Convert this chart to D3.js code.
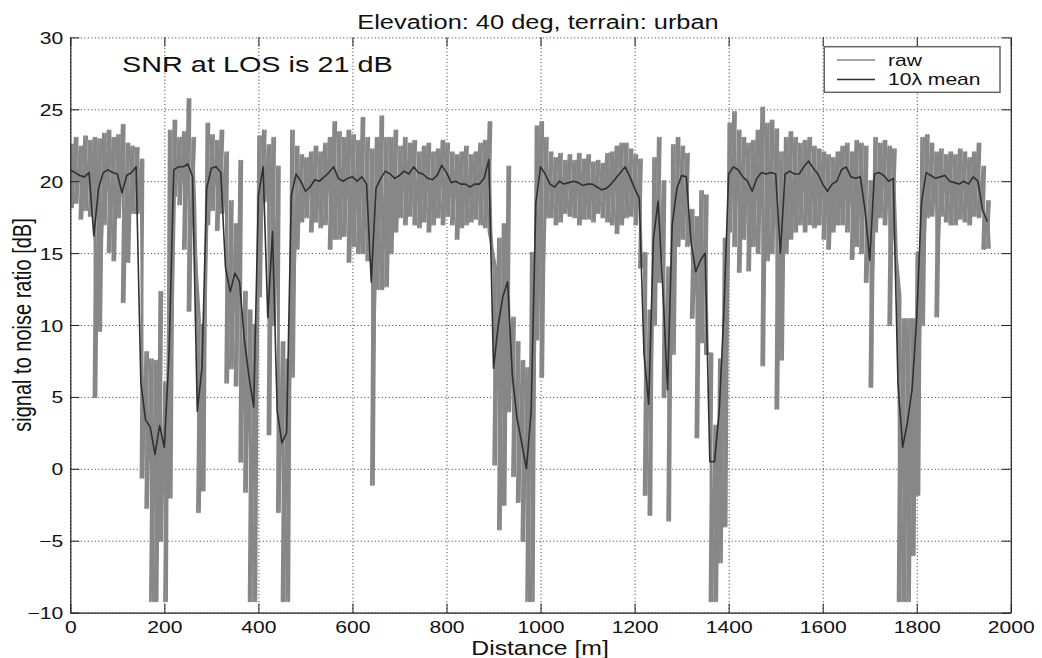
<!DOCTYPE html>
<html>
<head>
<meta charset="utf-8">
<script src="https://cdn.jsdelivr.net/npm/d3@7"></script>
<style>
  body { margin: 0; background: #fff; }
  svg { display: block; }
</style>
</head>
<body>
<svg id="snr_graph" width="1042" height="658"></svg>
<script>

// raw SNR envelope per 10 m of distance (max / min of the raw trace), dB
var rawHigh = [
  22.6, 23.0, 22.4, 23.1, 22.8, 23.0, 22.9, 23.3, 23.5, 23.0,
  23.2, 23.9, 22.6, 22.4, 22.3, 21.5, 8.1, 7.6, 7.5, 12.3,
  6.0, 23.5, 24.2, 23.0, 23.4, 25.7, 23.0, 10.4, 10.0, 24.0,
  23.2, 22.8, 23.5, 22.0, 18.6, 17.0, 21.4, 12.3, 11.0, 10.0,
  23.1, 23.5, 22.5, 23.0, 21.0, 8.8, 7.6, 23.5, 22.4, 21.8,
  21.6, 22.0, 22.4, 22.0, 22.6, 23.0, 24.1, 23.4, 23.0, 23.5,
  23.2, 22.8, 24.4, 23.0, 22.2, 23.0, 24.5, 23.0, 23.0, 23.5,
  22.4, 23.0, 22.6, 22.8, 22.0, 22.4, 22.6, 22.0, 22.2, 22.8,
  22.6, 22.0, 21.8, 22.0, 22.4, 21.8, 22.0, 22.6, 22.8, 24.1,
  14.0, 16.0, 17.0, 21.0, 10.5, 8.8, 7.5, 7.0, 15.0, 23.8,
  24.1, 23.0, 22.0, 21.6, 21.9, 21.4, 21.8, 21.4, 21.9, 21.5,
  21.8, 21.3, 21.4, 21.2, 21.9, 22.0, 22.4, 22.6, 22.6, 22.2,
  21.8, 21.5, 15.0, 11.0, 21.6, 23.0, 20.0, 14.0, 22.5, 23.0,
  22.4, 21.9, 18.0, 17.5, 19.3, 19.0, 8.0, 3.0, 7.6, 16.0,
  24.0, 24.8, 23.5, 23.0, 22.6, 22.8, 23.5, 25.1, 24.0, 24.2,
  23.6, 22.0, 23.0, 23.4, 23.0, 22.6, 22.8, 23.0, 22.4, 22.2,
  22.0, 21.8, 21.6, 22.0, 22.4, 22.6, 22.0, 22.8, 22.6, 22.4,
  20.0, 23.0, 22.6, 22.8, 22.4, 22.2, 12.0, 10.4, 10.4, 10.4,
  15.0, 23.0, 23.2, 22.6, 22.0, 22.2, 21.8, 22.0, 21.8, 22.2,
  22.0, 21.6, 22.0, 22.6, 21.0, 18.6
];
var rawLow = [
  18.2, 18.5, 17.4, 18.0, 17.6, 5.0, 9.6, 17.0, 15.1, 14.5,
  17.5, 11.6, 14.4, 17.8, 17.8, -0.6, -2.7, -9.2, -9.2, -5.0,
  -9.2, -2.0, 19.0, 18.4, 15.3, 11.0, 18.5, -3.0, -1.5, 17.0,
  18.0, 16.6, 17.8, 6.0, 7.0, 5.8, 0.5, -1.6, -9.2, -9.2,
  12.0, 18.6, 2.4, 10.0, -3.0, -9.2, -9.2, 6.4, 15.3, 17.2,
  17.5, 16.5, 17.2, 16.8, 17.0, 15.3, 16.0, 16.0, 16.2, 14.4,
  15.5, 15.0, 15.0, 14.5, -1.1, 12.5, 12.5, 12.7, 15.0, 16.5,
  17.5, 17.0, 17.6, 17.0, 16.8, 17.2, 16.5, 17.0, 17.5, 17.0,
  17.6, 17.0, 16.0, 16.8, 17.0, 17.2, 17.4, 17.0, 16.8, 16.5,
  0.3, -4.2, -2.5, 4.0, -0.5, -2.3, -5.0, -9.2, -9.2, 9.0,
  6.4, 17.5, 17.5, 17.0, 17.2, 17.8, 17.6, 17.5, 17.0, 17.4,
  17.4, 17.2, 17.8, 17.5, 17.2, 17.0, 16.4, 17.0, 17.5, 17.6,
  17.0, 14.0, -1.8, -3.2, 10.0, 13.0, 5.0, -3.6, 8.0, 15.5,
  16.0, 15.5, 10.5, 2.2, 8.8, 8.0, -9.2, -9.2, -6.5, -4.0,
  16.5, 15.5, 13.7, 16.0, 13.8, 15.5, 15.0, 7.2, 14.5, 15.0,
  4.2, 7.6, 15.0, 16.0, 16.5, 17.0, 16.5, 17.0, 16.8, 17.0,
  16.0, 15.3, 16.5, 17.0, 17.0, 16.5, 14.6, 15.5, 15.0, 13.0,
  5.7, 16.5, 17.5, 17.0, 10.0, 17.2, -9.2, -9.2, -9.2, -6.0,
  -1.8, 10.0, 17.5, 17.6, 10.6, 17.6, 17.2, 17.0, 17.0, 17.4,
  17.2, 17.0, 17.6, 17.5, 15.3, 15.3
];
// 10 lambda running mean, same 10 m steps
var meanSnr = [
  20.8, 20.6, 20.4, 20.3, 20.6, 16.2, 19.5, 20.6, 20.8, 20.6,
  20.5, 19.2, 20.4, 20.6, 21.0, 6.0, 3.4, 2.9, 1.0, 3.0,
  1.5, 8.0, 20.8, 21.0, 21.0, 21.2, 20.3, 4.0, 7.0, 19.5,
  20.9, 21.0, 20.6, 14.0, 12.3, 13.6, 13.0, 9.0, 6.4, 4.3,
  19.0, 21.0, 10.5, 16.5, 4.0, 1.8, 2.5, 19.0, 20.5, 20.0,
  19.3, 19.6, 20.1, 20.0, 20.3, 20.6, 21.0, 20.2, 20.0, 20.2,
  20.3, 20.0, 20.3, 19.8, 13.0, 19.5, 20.2, 20.7, 20.5, 20.2,
  20.4, 20.7, 20.5, 21.0, 20.6, 20.5, 20.2, 20.1, 20.4, 21.1,
  20.6, 19.9, 20.0, 19.8, 19.8, 19.6, 19.8, 19.8, 20.2, 21.5,
  7.0, 10.0, 12.0, 13.0, 6.5, 3.5, 1.8, 0.0, 4.0, 18.5,
  21.0, 20.5, 19.8, 19.6, 20.0, 19.8, 19.9, 20.0, 19.9, 19.7,
  19.8, 19.8, 19.6, 19.4, 19.5, 19.8, 20.2, 20.6, 21.0, 20.3,
  19.5, 18.8, 8.0, 4.5, 16.0, 18.6, 12.5, 5.5, 17.0, 19.5,
  20.4, 20.3, 15.8, 13.7, 14.5, 15.0, 0.5, 0.5, 4.0, 11.0,
  20.5, 21.0, 20.8, 20.3, 20.0, 19.3, 20.2, 20.6, 20.5, 20.6,
  20.5, 15.0, 20.5, 20.7, 20.5, 20.5, 21.0, 21.4, 20.9, 20.5,
  19.8, 19.3, 19.8, 20.0, 20.8, 21.0, 20.3, 20.2, 20.3, 18.0,
  14.5, 20.5, 20.6, 20.4, 20.0, 20.2, 6.0, 1.5, 3.2, 5.5,
  10.5, 18.5, 20.6, 20.4, 20.2, 20.3, 20.4, 20.0, 19.9, 19.8,
  20.0, 19.8, 20.3, 20.0, 18.0, 17.2
];

var xTicks = [0, 200, 400, 600, 800, 1000, 1200, 1400, 1600, 1800, 2000];
var yTicks = [-10, -5, 0, 5, 10, 15, 20, 25, 30];
var legendLabels = ["raw", "10\u03bb mean"];



var graph = d3.select('svg#snr_graph');

var plotLeft = 70.3,
    plotRight = 1010.8,
    plotTop = 37.4,
    plotBottom = 612.6;

var fontFamily = "'Liberation Sans', Arial, sans-serif",
    stretch = 1.27; // the original picture is a bit wider than tall
var rawColor = "#878787",
    meanColor = "#303030";

var x = d3.scaleLinear().domain([0, 2000]).range([plotLeft, plotRight]);
var y = d3.scaleLinear().domain([-10, 30]).range([plotBottom, plotTop]);

var distance = d3.range(0, rawHigh.length * 10, 10);


function addText(px, py, size, anchor, str, rotate) {
  return graph.append("text")
    .attr("transform", "translate(" + px + "," + py + ") scale(" + stretch + ",1)" + (rotate ? " rotate(-90)" : ""))
    .style("font-family", fontFamily)
    .style("font-size", size + "px")
    .style("fill", "#111")
    .attr("text-anchor", anchor)
    .text(str);
}


// dotted grid
graph.append("g")
  .attr("transform", "translate(0," + plotBottom + ")")
  .call(d3.axisBottom(x).tickValues(xTicks).tickSize(-(plotBottom - plotTop)).tickFormat(""))
  .call(function(g) {
    g.select(".domain").remove();
    g.selectAll("line").attr("stroke", "#333").attr("stroke-dasharray", "1,2.5");
  });
graph.append("g")
  .attr("transform", "translate(" + plotLeft + ",0)")
  .call(d3.axisLeft(y).tickValues(yTicks).tickSize(-(plotRight - plotLeft)).tickFormat(""))
  .call(function(g) {
    g.select(".domain").remove();
    g.selectAll("line").attr("stroke", "#333").attr("stroke-dasharray", "1,2.5");
  });


graph.append("clipPath").attr("id", "plot_clip")
  .append("rect")
  .attr("x", plotLeft).attr("y", plotTop)
  .attr("width", plotRight - plotLeft).attr("height", plotBottom - plotTop);

var el = graph.append("g").attr("clip-path", "url(#plot_clip)");


// raw trace: swing between the max and the min of each 10 m step,
// drawn twice in opposite phase so the dense band reads as solid
var rawLine = d3.line()
    .x(function(p) { return x(p[0]); })
    .y(function(p) { return y(p[1]); });

[0, 5].forEach(function(shift) {
  var pts = [];
  distance.forEach(function(d, i) {
    pts.push([d + shift, rawHigh[i]]);
    pts.push([d + 5 - shift, rawLow[i]]);
  });
  el.append("path")
    .datum(pts)
    .attr("d", rawLine)
    .style("fill", "none")
    .style("stroke", rawColor)
    .style("stroke-width", 2.5)
    .style("stroke-linejoin", "round");
});

// mean
var meanLine = d3.line()
    .x(function(d, i) { return x(distance[i]); })
    .y(function(d) { return y(d); });
el.append("path")
  .datum(meanSnr)
  .attr("d", meanLine)
  .style("fill", "none")
  .style("stroke", meanColor)
  .style("stroke-width", 1.6)
  .style("stroke-linejoin", "round");


// axes, ticks pointing inwards
var gx = graph.append("g")
  .attr("transform", "translate(0," + plotBottom + ")")
  .call(d3.axisBottom(x).tickValues(xTicks).tickSize(-9).tickSizeOuter(0).tickFormat(d3.format("d")));
gx.selectAll("text")
  .attr("y", null).attr("dy", null)
  .attr("transform", "translate(0,20.5) scale(" + stretch + ",1)")
  .style("font-family", fontFamily).style("font-size", "16.6px").style("fill", "#111");

var gy = graph.append("g")
  .attr("transform", "translate(" + plotLeft + ",0)")
  .call(d3.axisLeft(y).tickValues(yTicks).tickSize(-9).tickSizeOuter(0));
gy.selectAll("text")
  .attr("x", null).attr("dy", null)
  .attr("transform", "translate(-7,6) scale(" + stretch + ",1)")
  .style("font-family", fontFamily).style("font-size", "16.6px").style("fill", "#111");

graph.append("g")
  .attr("transform", "translate(" + plotRight + ",0)")
  .call(d3.axisRight(y).tickValues(yTicks).tickSize(-9).tickSizeOuter(0).tickFormat(""));

graph.append("g")
  .attr("transform", "translate(0," + plotTop + ")")
  .call(d3.axisTop(x).tickValues(xTicks).tickSize(-9).tickSizeOuter(0).tickFormat(""))
  .select(".domain").remove();

graph.selectAll(".domain").attr("stroke", "#222").attr("stroke-width", 1.2);
graph.selectAll(".tick line").filter(function() { return !this.getAttribute("stroke-dasharray"); })
  .attr("stroke", "#222");


// texts
addText(538, 29, 20, "middle", "Elevation: 40 deg, terrain: urban");
addText(122, 72, 22.7, "start", "SNR at LOS is 21 dB");
addText(540, 655, 19.5, "middle", "Distance [m]");
addText(31, 325, 20, "middle", "signal to noise ratio [dB]", true);


// legend
var legend = graph.append("g");
legend.append("rect")
  .attr("x", 824.3).attr("y", 46.7)
  .attr("width", 175.7).attr("height", 45.6)
  .style("fill", "#fff")
  .style("stroke", "#666")
  .style("stroke-width", 1.5);

[rawColor, meanColor].forEach(function(color, i) {
  var ly = 60 + i * 19.5;
  legend.append("line")
    .attr("x1", 837).attr("x2", 875)
    .attr("y1", ly).attr("y2", ly)
    .style("stroke", color)
    .style("stroke-width", 1.4);
  addText(888, ly + 5.5, 16.6, "start", legendLabels[i]);
});

</script>
</body>
</html>
